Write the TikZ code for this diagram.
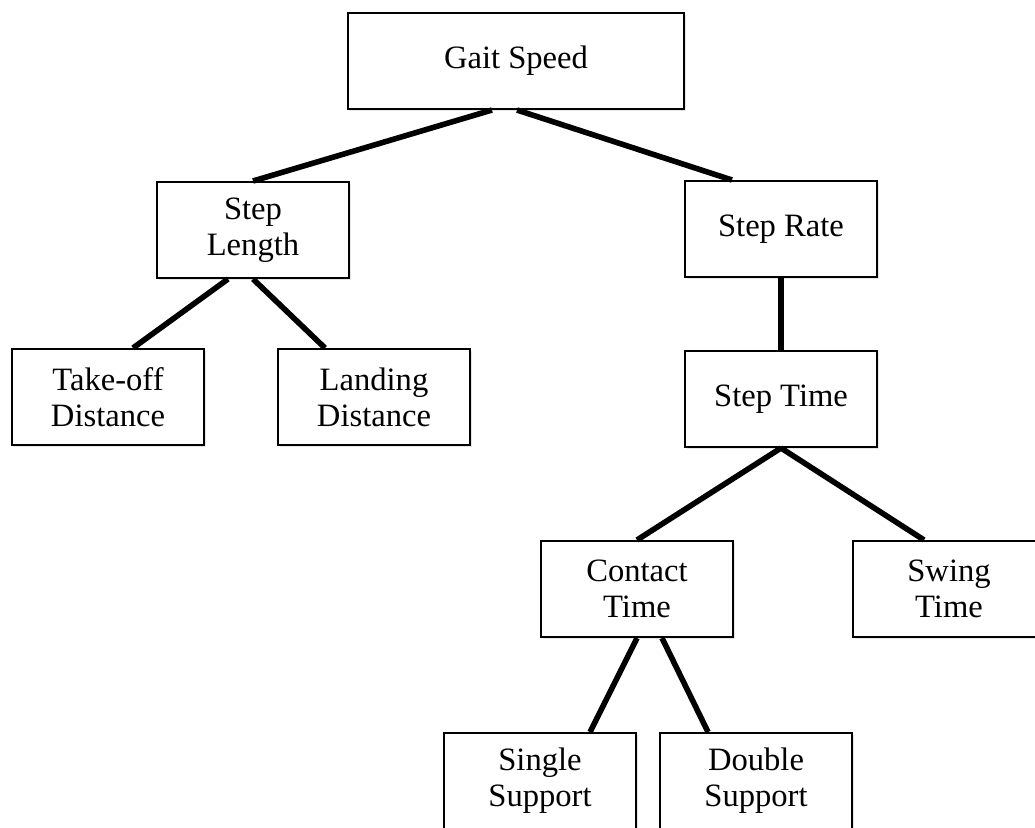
\documentclass[tikz,border=0pt]{standalone}
\usepackage{fontspec}
\setmainfont{Liberation Serif}
\usetikzlibrary{positioning, shadows}

\begin{document}
\begin{tikzpicture}[
    x = 0.5pt, y = -0.5pt,
    boks/.style = {rectangle, draw, line width=1pt, fill=white,
                   minimum width=96pt, minimum height=48pt, align=center,
                   drop shadow={shadow xshift=0.8pt, shadow yshift=-1pt, opacity=0.2}},
    strek/.style = {black, line width=2.8pt},
    font=\fontsize{16.3}{18}\selectfont
    ]

  \clip (0,0) rectangle (1035,827);
  \fill[white] (0,0) rectangle (1035,827);

  \node[boks, minimum width=168pt] (gait) at (516,61) {Gait Speed} ;
  \node[boks] (length) at (253,230) {Step\\Length} ;
  \node[boks] (rate) at (781,229) {Step Rate} ;

  \node[boks] (takeoff) at (108,397) {Take-off\\Distance} ;
  \node[boks] (landing) [right=36pt of takeoff] {Landing\\Distance} ;
  \node[boks] (steptime) [below=36pt of rate] {Step Time} ;

  \node[boks] (contact) at (637,589) {Contact\\Time} ;
  \node[boks] (swing) [right=59pt of contact] {Swing\\Time} ;

  \node[boks] (single) at (540,781) {Single\\Support} ;
  \node[boks] (double) [right=11pt of single] {Double\\Support} ;

  \draw[strek]
  ([xshift=-12pt]gait.south) edge (length.north)
  ([xshift=0.5pt]gait.south) edge ([xshift=-24.5pt]rate.north)

  ([xshift=-12.5pt]length.south) edge ([xshift=12.5pt]takeoff.north)
  (length.south) edge ([xshift=-24.5pt]landing.north)

  (rate) edge (steptime)
  (steptime.south) edge (contact.north)
  (steptime.south) edge ([xshift=-12.5pt]swing.north)

  (contact.south) edge ([xshift=25pt]single.north)
  ([xshift=12.5pt]contact.south) edge ([xshift=-24pt]double.north);
\end{tikzpicture}
\end{document}
